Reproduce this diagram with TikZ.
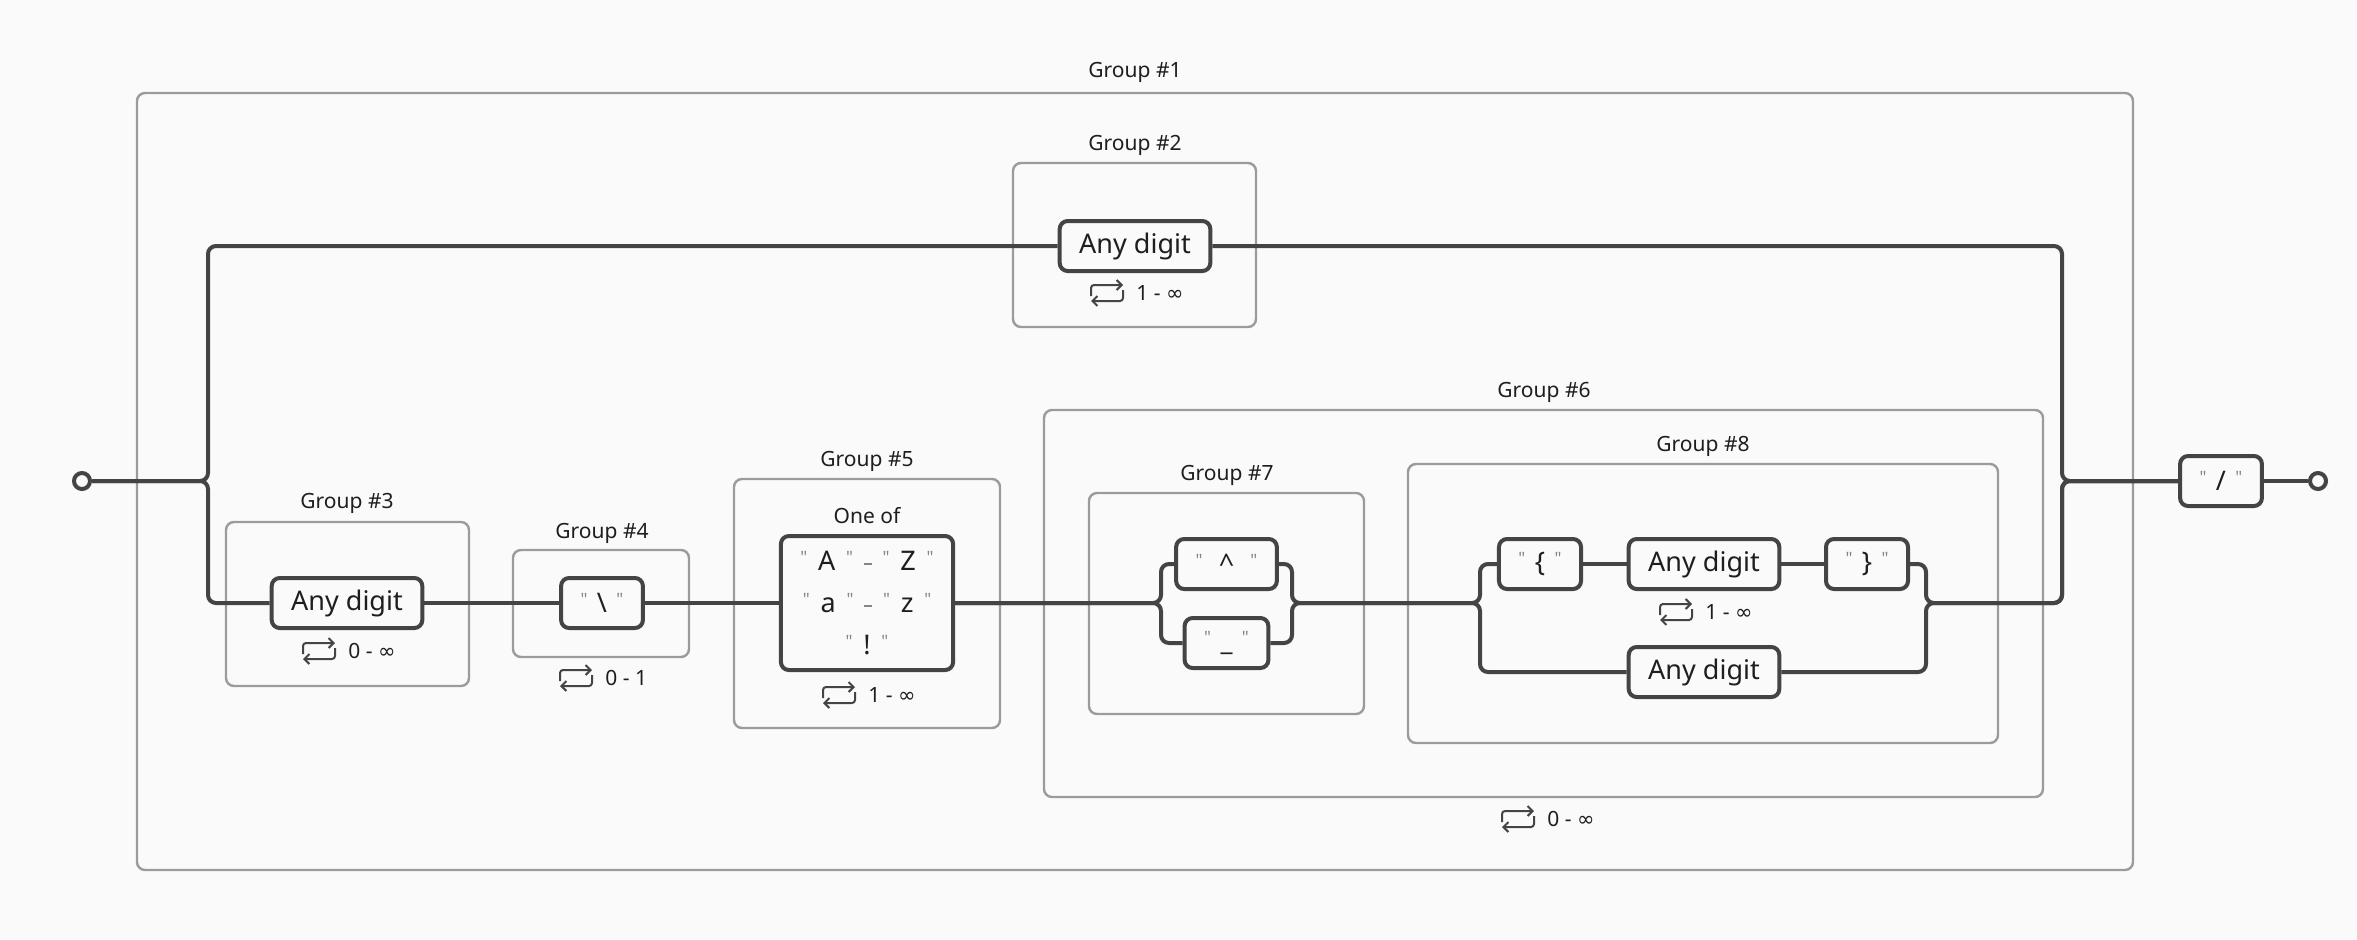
\documentclass[tikz,border=0pt]{standalone}
\usepackage{fontspec}
\setmainfont{Noto Sans}
\newfontfamily\symfont{DejaVu Sans}
\usetikzlibrary{arrows.meta,positioning}

\definecolor{bg}{HTML}{FAFAFA}
\definecolor{wirecol}{HTML}{444444}
\definecolor{grpcol}{HTML}{9B9B9B}
\definecolor{txtcol}{HTML}{1E1E1E}
\definecolor{qgray}{HTML}{858585}

% quote mark, range dash and infinity inside texts
\newcommand{\qm}{{\color{qgray}\raisebox{0.28em}{\fontsize{8.5}{8.5}\selectfont\textquotedbl}}}
\newcommand{\rng}{{\color{qgray}\rule[3pt]{4pt}{0.8pt}}}
\newcommand{\infsym}{{\symfont ∞}}

\tikzset{
  wire/.style   = {line width=2pt, draw=wirecol, rounded corners=4pt},
  term/.style   = {circle, draw=wirecol, line width=2pt, fill=bg, minimum size=8pt, inner sep=0pt},
  tok/.style    = {draw=wirecol, line width=2pt, fill=bg, rounded corners=4pt, minimum height=25pt,
                   inner xsep=9.75pt, inner ysep=0pt, font=\fontsize{13.5}{16}\selectfont, text=txtcol},
  grp/.style    = {draw=grpcol, line width=1.2pt, rounded corners=4pt},
  glabel/.style = {font=\fontsize{10.5}{12}\selectfont, text=txtcol, inner sep=0pt},
  rep/.style    = {font=\fontsize{10.5}{12}\selectfont, text=txtcol, inner sep=0pt, anchor=west},
  pics/loopicon/.style = {code={
    \draw[line width=1pt, wirecol, rounded corners=1.5pt, -{Straight Barb[length=2.5pt,width=5pt]}]
      (-16,3) -- (-16,-8) -- (16,-8);
    \draw[line width=1pt, wirecol, rounded corners=1.5pt, -{Straight Barb[length=2.5pt,width=5pt]}]
      (16,-3) -- (16,8) -- (-16,8);
  }},
}

\begin{document}
\begin{tikzpicture}[x=0.5pt,y=-0.5pt]
  \fill[bg] (0,0) rectangle (2357,939);

  % groups
  \draw[grp] (137,93) rectangle (2133,870);
  \draw[grp] (1013,163) rectangle (1256,327);
  \draw[grp] (226,522) rectangle (469,686);
  \draw[grp] (513,550) rectangle (689,657);
  \draw[grp] (734,479) rectangle (1000,728);
  \draw[grp] (1044,410) rectangle (2043,797);
  \draw[grp] (1089,493) rectangle (1364,714);
  \draw[grp] (1408,464) rectangle (1998,743);
  \node[glabel] (g1lab) at (1135,72)  {Group \#1};
  \node[glabel] (g2lab) at (1135,145) {Group \#2};
  \node[glabel] (g3lab) at (347,503)  {Group \#3};
  \node[glabel] (g4lab) at (602,533)  {Group \#4};
  \node[glabel] (g5lab) at (867,461)  {Group \#5};
  \node[glabel] (g6lab) at (1544,392) {Group \#6};
  \node[glabel] (g7lab) at (1227,475) {Group \#7};
  \node[glabel] (g8lab) at (1703,446) {Group \#8};

  % tokens
  \node[term] (start) at (82,481) {};
  \node[term] (end)   at (2318,481) {};
  \node[tok] (d2)    at (1135,246) {Any digit};
  \node[tok] (d3)    at (347,603)  {Any digit};
  \node[tok] (bs)    at (602,603)  {\qm\hspace{0.35em}\textbackslash\hspace{0.35em}\qm};
  \node[glabel] (oneoflab) at (867,516) {One of};
  \node[tok, minimum width=85.5pt, minimum height=67pt, align=center,
        font=\fontsize{13.5}{21}\selectfont] (oneof) at (867,603)
        {\qm\hspace{0.4em}A\hspace{0.4em}\qm\hspace{0.4em}\rng\hspace{0.4em}\qm\hspace{0.4em}Z\hspace{0.4em}\qm\\
         \qm\hspace{0.4em}a\hspace{0.4em}\qm\hspace{0.4em}\rng\hspace{0.4em}\qm\hspace{0.4em}z\hspace{0.4em}\qm\\
         \qm\hspace{0.4em}!\hspace{0.4em}\qm};
  \node[tok] (caret)  at (1226.5,564) {\qm\hspace{0.6em}\textasciicircum\hspace{0.6em}\qm};
  \node[tok] (uscore) at (1226.5,643) {\qm\hspace{0.35em}\_\hspace{0.35em}\qm};
  \node[tok] (lbr)   at (1540,564) {\qm\hspace{0.35em}\{\hspace{0.35em}\qm};
  \node[tok] (d8a)   at (1704,564) {Any digit};
  \node[tok] (rbr)   at (1867,564) {\qm\hspace{0.35em}\}\hspace{0.35em}\qm};
  \node[tok] (d8b)   at (1704,672) {Any digit};
  \node[tok] (slash) at (2221,481) {\qm\hspace{0.35em}/\hspace{0.35em}\qm};

  % repeat counts
  \node[rep] (r2) at (1136,293) {1 - \infsym};
  \node[rep] (r3) at (348,651)  {0 - \infsym};
  \node[rep] (r4) at (605,678)  {0 - 1};
  \node[rep] (r5) at (868,695)  {1 - \infsym};
  \node[rep] (r6) at (1547,819) {0 - \infsym};
  \node[rep] (r8) at (1705,612) {1 - \infsym};
  \foreach \r in {r2,r3,r4,r5,r6,r8}
    \pic at ([xshift=-14.5pt]\r.west) {loopicon};

  % junctions
  \coordinate (s1) at (208,481);
  \coordinate (m1) at (2062,481);
  \coordinate (s7) at (1161,603);
  \coordinate (m7) at (1292,603);
  \coordinate (s8) at (1480,603);
  \coordinate (m8) at (1926,603);

  % wires
  \draw[wire] (start) -- (s1) |- (d2);
  \draw[wire] (start) -- (s1) |- (d3);
  \draw[wire] (d3) -- (bs);
  \draw[wire] (bs) -- (oneof);
  \draw[wire] (oneof) -- (s7) |- (caret);
  \draw[wire] (oneof) -- (s7) |- (uscore);
  \draw[wire] (caret) -| (m7) -- (s8) |- (lbr);
  \draw[wire] (uscore) -| (m7) -- (s8) |- (d8b);
  \draw[wire] (lbr) -- (d8a) -- (rbr);
  \draw[wire] (rbr) -| (m8) -| (m1) -- (slash);
  \draw[wire] (d8b) -| (m8) -| (m1) -- (slash);
  \draw[wire] (d2) -| (m1) -- (slash);
  \draw[wire] (slash) -- (end);
\end{tikzpicture}
\end{document}
